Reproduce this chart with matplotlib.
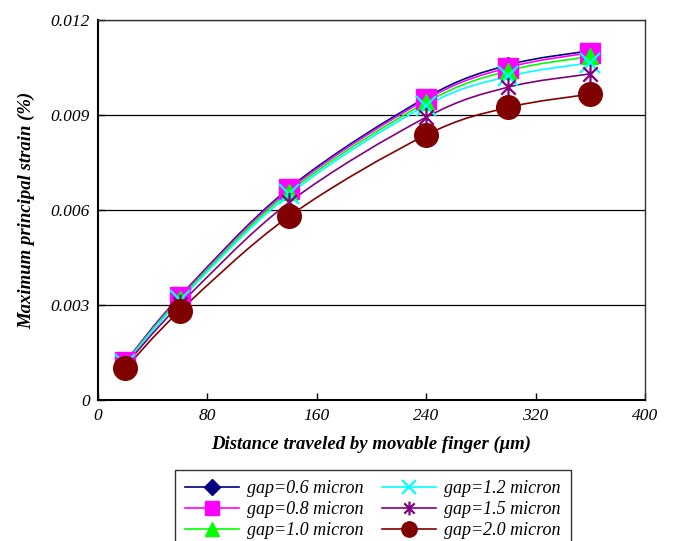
import numpy as np
import matplotlib
matplotlib.use("Agg")
import matplotlib.pyplot as plt
from matplotlib.path import Path
from matplotlib.patches import PathPatch
from matplotlib.lines import Line2D

plt.rcParams["font.family"] = ["Liberation Serif", "DejaVu Serif"]

# ---------------------------
# Data
# ---------------------------
distance = [20, 60, 140, 240, 300, 360]

gap_labels = ["gap=0.6 micron", "gap=0.8 micron", "gap=1.0 micron",
              "gap=1.2 micron", "gap=1.5 micron", "gap=2.0 micron"]

strain_06 = [0.00120, 0.00328, 0.00670, 0.00955, 0.01058, 0.01103]
strain_08 = [0.00119, 0.00325, 0.00665, 0.00949, 0.01050, 0.01097]
strain_10 = [0.00117, 0.00320, 0.00658, 0.00940, 0.01040, 0.01085]
strain_12 = [0.00115, 0.00315, 0.00650, 0.00930, 0.01022, 0.01065]
strain_15 = [0.00110, 0.00302, 0.00625, 0.00893, 0.00988, 0.01030]
strain_20 = [0.00100, 0.00282, 0.00581, 0.00837, 0.00924, 0.00966]

x_ticks = [0, 80, 160, 240, 320, 400]
y_ticks = [0, 0.003, 0.006, 0.009, 0.012]
y_ticklabels = ["0", "0.003", "0.006", "0.009", "0.012"]

# asterisk marker: X plus a vertical bar
star = Path([(-1, -1), (1, 1), (-1, 1), (1, -1), (0, -1.35), (0, 1.35)],
            [Path.MOVETO, Path.LINETO, Path.MOVETO, Path.LINETO,
             Path.MOVETO, Path.LINETO])

styles = [
    dict(color="#000080", marker="D", ms=8, lms=8),
    dict(color="#ff00ff", marker="s", ms=15, lms=10),
    dict(color="#00ff00", marker="^", ms=12, lms=10),
    dict(color="#00ffff", marker="x", ms=14, lms=10, mew=1.6),
    dict(color="#800080", marker=star, ms=14, lms=10, mew=1.6),
    dict(color="#800000", marker="o", ms=17, lms=11),
]


def smooth_path(xs, ys):
    """Excel-like smoothed line as cubic Bezier segments."""
    p = np.column_stack([xs, ys]).astype(float)
    n = len(p)
    verts = [p[0]]
    codes = [Path.MOVETO]
    for i in range(n - 1):
        prev = p[i - 1] if i > 0 else p[i]
        nxt = p[i + 2] if i + 2 < n else p[i + 1]
        c1 = p[i] + (p[i + 1] - prev) / 6.0
        c2 = p[i + 1] - (nxt - p[i]) / 6.0
        verts += [c1, c2, p[i + 1]]
        codes += [Path.CURVE4] * 3
    return Path(verts, codes)


fig = plt.figure(figsize=(6.73, 5.41), dpi=100)
ax = fig.add_axes([98 / 673, 1 - 400 / 541, 547 / 673, 380 / 541])

series = [strain_06, strain_08, strain_10, strain_12, strain_15, strain_20]
handles = []
for vals, st, lab in zip(series, styles, gap_labels):
    col = st["color"]
    ax.add_patch(PathPatch(smooth_path(distance, vals), facecolor="none",
                           edgecolor=col, lw=1.2, zorder=2))
    ax.plot(distance, vals, linestyle="none", marker=st["marker"],
            ms=st["ms"], color=col, mfc=col, mec=col,
            mew=st.get("mew", 1.0), zorder=3)
    handles.append(Line2D([], [], color=col, lw=1.2, marker=st["marker"],
                          ms=st["lms"], mfc=col, mec=col,
                          mew=st.get("mew", 1.0), label=lab))

ax.set_xlim(0, 400)
ax.set_ylim(0, 0.012)
ax.set_xticks(x_ticks)
ax.set_xticklabels([str(v) for v in x_ticks], style="italic", fontsize=12.5)
ax.set_yticks(y_ticks)
ax.set_yticklabels(y_ticklabels, style="italic", fontsize=12.5)
ax.tick_params(direction="in", length=5, width=1, pad=6)
ax.yaxis.grid(True, color="black", lw=0.9)
ax.set_axisbelow(True)

for side in ["left", "bottom"]:
    ax.spines[side].set_linewidth(1.5)
for side in ["top", "right"]:
    ax.spines[side].set_linewidth(1.0)
    ax.spines[side].set_color("#333333")

ax.set_xlabel("Distance traveled by movable finger (μm)", fontsize=13.5,
              weight="bold", style="italic")
ax.set_ylabel("Maximum principal strain (%)", fontsize=13.5,
              weight="bold", style="italic")
ax.xaxis.set_label_coords(0.5, -0.095)
ax.yaxis.set_label_coords(-0.115, 0.5)

leg = fig.legend(handles=handles, ncol=2, loc="upper center",
                 bbox_to_anchor=(373 / 673, 1 - 461 / 541),
                 prop=dict(family=["Liberation Serif"], style="italic", size=13),
                 frameon=True, fancybox=False, edgecolor="black",
                 handlelength=3.0, columnspacing=1.0, labelspacing=0.22,
                 borderpad=0.55, handletextpad=0.45)
leg.get_frame().set_linewidth(1.0)

fig.savefig("out.png", dpi=100)
